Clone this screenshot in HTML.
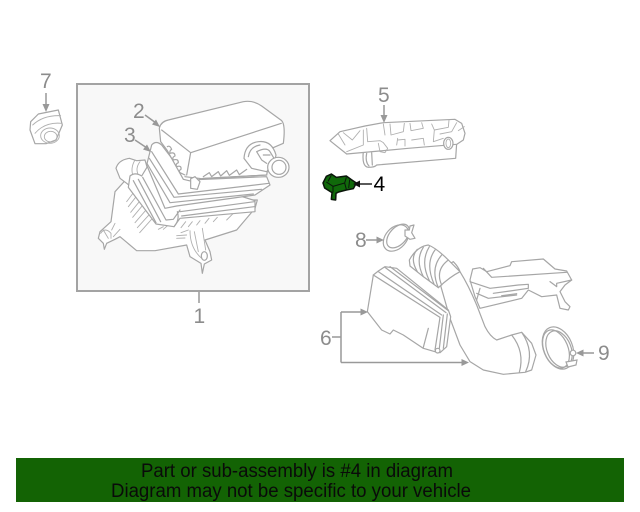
<!DOCTYPE html>
<html><head><meta charset="utf-8"><style>
html,body{margin:0;padding:0;background:#fff}
svg{display:block}
text{font-family:"Liberation Sans",sans-serif}
.n{font-size:21px;fill:#8c8c8c}
.p{fill:none;stroke:#a6a6a6;stroke-width:3.6;stroke-linejoin:round;stroke-linecap:round}
.t{fill:none;stroke:#b0b0b0;stroke-width:2.7;stroke-linejoin:round;stroke-linecap:round}
.f{fill:#fff}
.l{fill:none;stroke:#999;stroke-width:1.5}
.a{fill:#999}
.r{fill:#fff;stroke:#a6a6a6;stroke-width:1.2}
.o{fill:none;stroke:#a6a6a6;stroke-width:1.2}
</style></head><body>
<svg width="640" height="512" viewBox="0 0 640 512" xmlns="http://www.w3.org/2000/svg">
<rect x="77" y="84" width="232" height="207" fill="#f8f8f8" stroke="#a3a3a3" stroke-width="2"/>
<line x1="199" y1="292" x2="199" y2="303" class="l"/>

<!-- lower body -->
<g transform="translate(95 180) scale(.33333)">
 <path class="p f" d="M110 -20 L60 35 L48 125 L15 155 L10 175 L25 190 L28 208 L35 190 L60 178 L75 170 L125 212 L180 212 L275 195 L285 230 L318 250 L322 280 L328 252 L350 240 L345 215 L330 180 L425 150 L480 85 L487 60 L300 60 L200 -20Z"/>
 <path class="t" d="M95 65 L125 25 M100 80 L135 35 M107 97 L145 50 M113 112 L152 65 M120 128 L160 82 M127 143 L168 98 M134 158 L175 112 M17 160 Q30 140 48 160 L48 175 M25 150 L40 175 M60 130 L50 150 M75 148 L55 170 M190 148 L205 140 M205 148 L220 135 M258 143 L272 125 M280 140 L292 125 M305 135 L315 122 M330 130 L342 115 M355 125 L367 112 M395 120 L415 100 M245 167 L275 165 M245 175 L270 174 M258 158 L280 150 M285 152 Q285 205 320 235 M298 155 L310 215 M322 145 L332 210"/>
 <ellipse class="p f" cx="328" cy="228" rx="9" ry="13"/>
</g>

<g transform="translate(70 80) scale(.33333)">
 <!-- snorkel -->
 <path class="p f" d="M138 265 Q145 240 178 235 L200 242 L225 240 L238 285 L190 325 L170 310 L150 295Z"/>
 <path class="t" d="M195 240 Q180 265 190 290 M210 245 Q195 265 205 285"/>
 <!-- lower U flange -->
 <path class="p f" d="M175 322 L180 288 Q195 275 215 288 L232 260 L555 362 L555 395 L330 415 L312 440 L258 432Z"/>
 <path class="p" d="M190 302 L258 428 M205 298 L272 425 M218 292 L288 420 L310 418 L330 390 M330 395 L553 365 M335 408 L552 380 M312 440 Q330 420 322 395"/>
 <!-- upper flange -->
 <path class="p f" d="M230 255 L245 195 Q258 180 275 195 L355 300 L590 290 L600 315 L555 345 L320 378 L285 385Z"/>
 <path class="p" d="M245 215 L325 342 L597 310 M238 235 L312 352 L575 328 M232 252 L300 368 L550 342"/>
 <!-- top cover -->
 <path class="p f" d="M268 145 Q272 125 295 120 L520 65 Q550 60 575 78 L635 122 Q647 135 640 190 L605 205 L590 285 L400 295 L370 305 L340 298 L292 212 L272 185Z"/>
 <path class="p" d="M362 218 L634 130 M275 150 L362 218 L350 285 M345 290 L395 296 L590 285"/>
 <path class="p" d="M292 200 Q300 195 305 208 Q298 212 300 220 Q315 215 315 228 Q305 232 310 240 Q325 235 325 248 Q315 252 320 260 Q335 255 333 268 Q325 272 330 278 L345 285 M400 290 L418 278 L425 290 L445 275 L452 288 L470 272 L478 286 L500 270 L508 284 L530 268"/>
 <path class="p f" d="M362 296 L375 290 L390 305 L382 328 L362 325Z"/>
 <!-- duct -->
 <path class="p f" d="M522 235 Q525 190 565 185 Q605 180 618 225 L615 240 L590 275 L545 265Z"/>
 <path class="p" d="M535 230 Q540 200 570 195 M560 215 Q590 200 600 215 L612 235 M560 215 L575 240 L590 250 M580 225 L600 225"/>
 <ellipse class="p f" cx="625" cy="262" rx="32" ry="30"/>
 <ellipse class="p" cx="627" cy="262" rx="21" ry="21"/>
</g>

<!-- callouts 2,3 -->
<line x1="145" y1="115" x2="156" y2="123" class="l"/><path class="a" d="M160 127 L152 124.500 L156 119.500Z"/>
<line x1="135" y1="140" x2="147" y2="148" class="l"/><path class="a" d="M151 152 L143 149.500 L147 144.500Z"/>
<text class="n" x="133" y="118">2</text>
<text class="n" x="124" y="142">3</text>
<text class="n" x="193.500" y="323">1</text>

<!-- 7 -->
<text class="n" x="40" y="88">7</text>
<line x1="46" y1="93" x2="46" y2="106" class="l"/><path class="a" d="M46 112 L42.500 104 L49.500 104Z"/>
<g transform="translate(20 65) scale(.33333)">
 <path class="p f" d="M32 170 L55 147 L115 135 L127 180 L108 225 L78 236 L45 236 L30 195Z"/>
 <path class="t" d="M38 180 Q70 150 122 152 M45 205 Q75 170 125 175"/>
 <ellipse class="t" cx="90" cy="212" rx="28" ry="23"/>
 <ellipse class="t" cx="92" cy="215" rx="19" ry="16"/>
</g>

<!-- 5 -->
<text class="n" x="378" y="102">5</text>
<line x1="384" y1="105" x2="384" y2="118" class="l"/><path class="a" d="M384 123 L380.500 115 L387.500 115Z"/>
<g transform="translate(325 110) scale(.33333)">
 <path class="p f" d="M115 125 Q110 170 130 172 Q150 172 155 165 L392 145 L395 100 L250 110Z"/>
 <path class="p" d="M125 130 Q120 155 132 168 M140 128 L142 165"/>
 <path class="p f" d="M15 92 L45 65 L120 48 L175 38 L390 28 L410 40 L420 70 L415 90 L395 103 L250 115 L65 132Z"/>
 <path class="t" d="M40 72 L60 105 M55 68 L82 90 L105 62 M65 125 L115 105 L115 60 M125 55 L128 95 L165 92 L175 98 L188 115 L180 128 L165 125 L160 100 M175 42 L180 75 M195 42 L198 75 L235 65 L238 40 M218 85 L215 105 M218 90 L240 88 L240 108 M255 40 L258 62 L295 55 L290 38 M260 90 L295 85 L298 105 M320 42 L328 60 L370 52 L372 30 M328 60 L325 95 L355 85 M345 72 L380 65 L395 38 M400 62 L418 50"/>
 <ellipse class="p f" cx="370" cy="100" rx="14" ry="18"/>
 <ellipse class="t" cx="370" cy="100" rx="7" ry="13"/>
</g>

<!-- 4 green part -->
<g transform="translate(318 168) scale(.33333)">
 <path d="M15 45 L25 25 L40 18 L55 28 L85 24 L100 35 L115 45 L106 62 L85 66 L62 72 L54 76 L53 96 L40 94 L42 74 L20 60Z" fill="#10690a" stroke="#0a150a" stroke-width="4.500" stroke-linejoin="round"/>
 <path d="M25 42 L45 55 L45 74 M45 55 L80 45 L85 28 M80 45 L85 64 M40 22 L30 40 M95 35 L92 60" fill="none" stroke="#0a150a" stroke-width="3"/>
</g>
<line x1="356" y1="184" x2="372" y2="184" stroke="#222" stroke-width="1.500"/><path d="M353 184 L360 180.500 L360 187.500Z" fill="#111"/>
<text x="373.500" y="191" font-size="21" fill="#000">4</text>

<!-- 8 clamp -->
<ellipse class="r" cx="396" cy="238" rx="10.500" ry="15" transform="rotate(42 396 238)"/>
<ellipse class="o" cx="398" cy="236" rx="8.500" ry="14" transform="rotate(42 398 236)"/>
<g transform="translate(310 220) scale(.33333)">
 <path class="p f" d="M285 30 L298 30 L300 18 L312 15 L305 38 L315 55 L300 58 L285 48Z"/>
</g>

<g transform="translate(460 255) scale(.33333)">
 <!-- right box -->
 <path class="p f" d="M30 75 L38 42 L60 38 L80 50 L150 32 L155 20 L250 12 L285 42 L320 48 L335 75 L315 90 L300 110 L315 140 L330 155 L325 165 L300 160 L290 120 L245 125 L205 105 L185 130 L60 160 L45 125Z"/>
 <path class="p" d="M70 40 L95 67 L320 52 M30 80 L90 100 L175 90 L205 88 L205 100 L150 108 L100 115 M50 115 L85 130 L170 120 M60 100 L50 135 M125 122 L170 116 M270 80 L290 95 L290 85 L335 75"/>
 <!-- hose -->
 <path class="p f" d="M-20 20 Q-5 35 0 50 Q25 90 50 150 L75 215 Q90 245 110 255 L155 240 L185 232 L215 265 L228 300 L215 345 L195 352 L130 358 L70 345 L30 320 L0 270 L-30 190 L-70 50Z"/>
 <path class="p" d="M155 240 Q195 290 178 352 M185 232 Q225 290 197 350"/>
</g>

<!-- 9 clamp -->
<ellipse class="r" cx="558" cy="348" rx="14.500" ry="22" transform="rotate(-22 558 348)"/>
<ellipse class="o" cx="559" cy="349" rx="12" ry="19" transform="rotate(-22 559 349)"/>
<ellipse class="o" cx="556" cy="349" rx="12" ry="20" transform="rotate(-22 556 349)"/>
<path class="o" d="M566 362 L577 360 L576 365 L568 367Z" style="fill:#fff"/>
<circle class="r" cx="573" cy="353" r="2.800"/>

<g transform="translate(360 240) scale(.33333)">
 <!-- corrugated hose end -->
 <path class="p f" d="M148 60 Q170 20 205 15 Q230 25 265 60 L300 95 Q270 110 235 143 L190 110 L150 78Z"/>
 <path class="p" d="M172 28 Q148 55 172 95 M190 22 Q165 60 190 110 M208 20 Q180 65 208 122 M225 30 Q195 70 222 132 M245 45 Q210 85 235 143 M265 60 Q225 90 245 135"/>
 <!-- filter box -->
 <path class="p f" d="M22 215 L40 105 L55 93 L75 80 L110 85 L265 210 L272 230 L260 320 L240 338 L225 335 L190 325 L130 285 L100 270 L90 282 L65 270Z"/>
 <path class="p" d="M40 105 L240 232 M55 95 L245 225 M75 82 L258 218 M90 80 L265 212 M240 232 L225 330 M250 225 L238 325 M262 222 L250 325 M205 265 L190 322"/>
 <circle class="p f" cx="233" cy="332" r="7"/>
</g>

<!-- 8 callout -->
<text class="n" x="355" y="247">8</text>
<line x1="366" y1="240" x2="378" y2="240" class="l"/><path class="a" d="M384 240 L376.500 236.500 L376.500 243.500Z"/>
<!-- 9 callout -->
<text class="n" x="598" y="360">9</text>
<line x1="582" y1="353" x2="594" y2="353" class="l"/><path class="a" d="M576 353 L583.500 349.500 L583.500 356.500Z"/>
<!-- 6 callout -->
<text class="n" x="320" y="345">6</text>
<path d="M332 337 L341 337 M341 312 L341 362.500 M341 312 L363 312 M341 362.500 L464 362.500" fill="none" stroke="#999" stroke-width="1.500"/>
<path class="a" d="M368 312 L360.500 308.500 L360.500 315.500Z"/>
<path class="a" d="M469 362.500 L461.500 359 L461.500 366Z"/>

<!-- banner -->
<rect x="16" y="458" width="608" height="44" fill="#136304"/>
<text x="141" y="477" font-size="19" fill="#0a0a0a" textLength="312" lengthAdjust="spacingAndGlyphs">Part or sub-assembly is #4 in diagram</text>
<text x="111" y="497" font-size="19" fill="#0a0a0a" textLength="360" lengthAdjust="spacingAndGlyphs">Diagram may not be specific to your vehicle</text>
</svg>
</body></html>
